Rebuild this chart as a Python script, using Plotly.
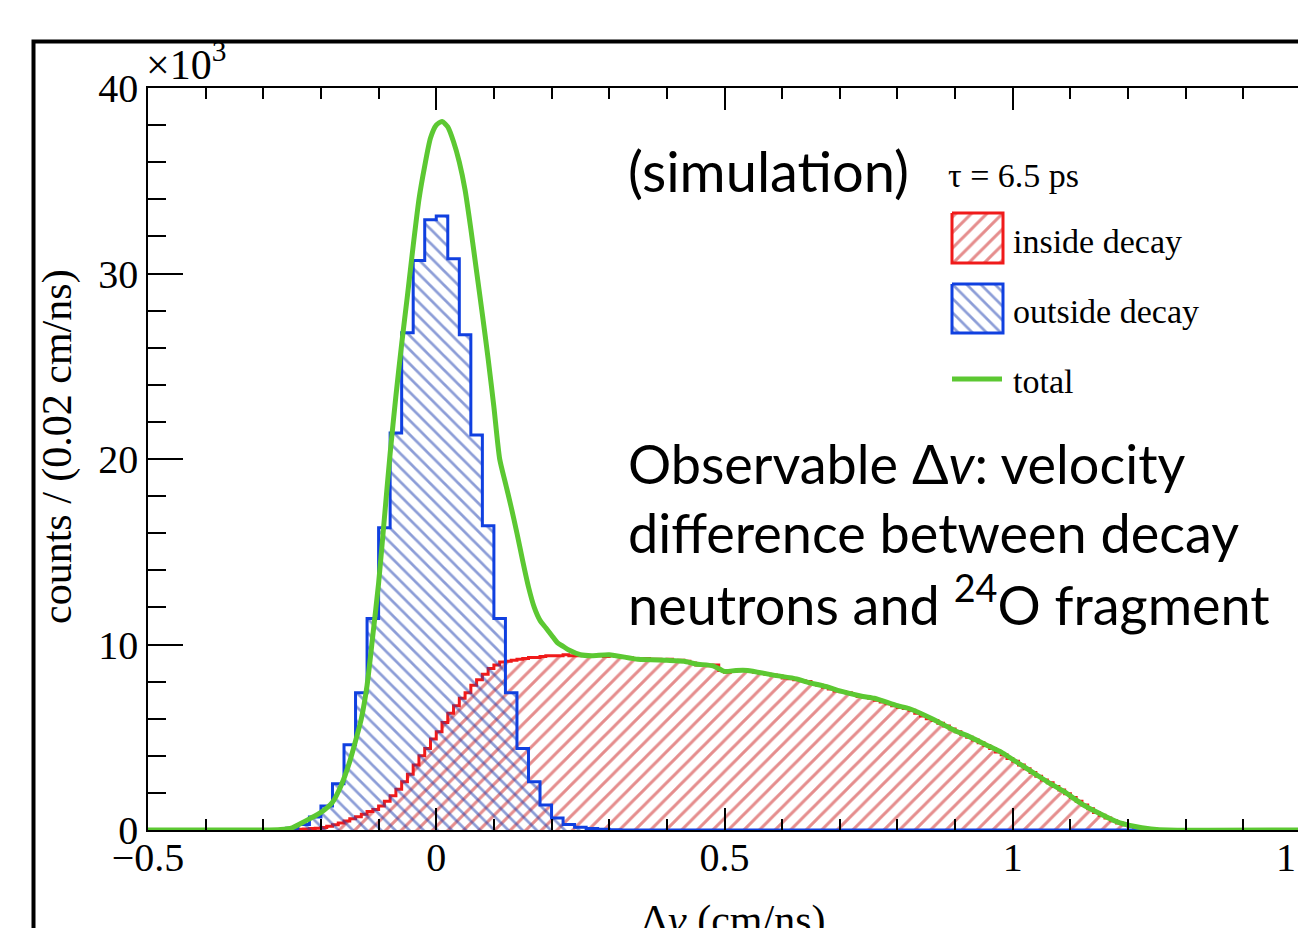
import numpy as np
import plotly.graph_objects as go

# ---------------- figure geometry ----------------
# target positions below are page pixels; the page body adds an 8px offset
W, H = 1306, 928
OFF = 8
PLOT_X0, PLOT_X1 = 148, 1301      # page pixels of the plot area
PLOT_Y0, PLOT_Y1 = 88, 830
L = PLOT_X0 - OFF
T = PLOT_Y0 - OFF
R = W - (PLOT_X1 - OFF)
B = H - (PLOT_Y1 - OFF)

# ---------------- data ----------------
x_range = [-0.5, 1.5]
y_range = [0, 40]            # in units of 10^3 counts

# outside decay (blue), 0.02-wide bins starting at -0.30
blue_start = -0.30
blue_width = 0.02
blue_vals = [0.0, 0.02, 0.1, 0.3, 0.7, 1.3, 2.5, 4.6, 7.4, 11.4, 16.3, 21.4,
             26.8, 30.7, 32.9, 33.1, 30.8, 26.7, 21.3, 16.4, 11.4, 7.4, 4.4,
             2.6, 1.35, 0.65, 0.3, 0.15, 0.08, 0.04, 0.02, 0.0]

# inside decay (red), 0.01-wide bins starting at -0.26
red_start = -0.26
red_width = 0.01
red_vals = [0.01, 0.02, 0.04, 0.06, 0.08, 0.1, 0.14, 0.2, 0.28, 0.38, 0.48,
            0.6, 0.72, 0.85, 1.0, 1.1, 1.3, 1.55, 1.85, 2.2, 2.6, 3.0, 3.5,
            4.0, 4.4, 4.9, 5.3, 5.8, 6.3, 6.7, 7.1, 7.4, 7.8, 8.1, 8.4, 8.7,
            8.9, 9.05, 9.1, 9.15, 9.2, 9.25, 9.3, 9.3, 9.35, 9.4, 9.4, 9.4,
            9.45, 9.4, 9.4, 9.45, 9.4, 9.4, 9.4, 9.35, 9.4, 9.35, 9.3, 9.3,
            9.25, 9.2, 9.25, 9.2, 9.2, 9.15, 9.2, 9.1, 9.15, 9.1, 9.0, 8.9,
            8.9, 8.85, 8.9, 8.6, 8.5, 8.55, 8.6, 8.6, 8.55, 8.5, 8.45, 8.4,
            8.35, 8.3, 8.2, 8.15, 8.1, 8.05, 8.0, 7.9, 7.8, 7.7, 7.6, 7.5,
            7.45, 7.4, 7.3, 7.2, 7.15, 7.1, 7.0, 6.9, 6.8, 6.7, 6.6, 6.55,
            6.45, 6.3, 6.15, 6.0, 5.9, 5.75, 5.6, 5.45, 5.3, 5.15, 5.0, 4.85,
            4.7, 4.55, 4.4, 4.2, 4.05, 3.85, 3.7, 3.5, 3.3, 3.1, 2.9, 2.7,
            2.55, 2.35, 2.15, 1.95, 1.75, 1.55, 1.35, 1.15, 0.95, 0.8, 0.65,
            0.5, 0.38, 0.28, 0.2, 0.14, 0.09, 0.06, 0.04, 0.02, 0.01, 0.0,
            0.0, 0.0]

# total (green curve)
total_x = [-0.5, -0.3, -0.27, -0.25, -0.235, -0.22, -0.2, -0.18, -0.165,
           -0.15, -0.14, -0.13, -0.12, -0.11, -0.1, -0.09, -0.08, -0.07,
           -0.06, -0.05, -0.04, -0.03, -0.02, -0.01, 0.0, 0.01, 0.02, 0.03,
           0.04, 0.05, 0.06, 0.07, 0.08, 0.09, 0.1, 0.11, 0.12, 0.13, 0.14,
           0.15, 0.16, 0.17, 0.18, 0.19, 0.2, 0.21, 0.22, 0.23, 0.25, 0.27,
           0.3, 0.35, 0.4, 0.43, 0.45, 0.48, 0.5, 0.52, 0.54, 0.585, 0.625,
           0.64, 0.68, 0.7, 0.74, 0.76, 0.8, 0.82, 0.86, 0.9, 0.92, 0.96,
           0.98, 1.0, 1.04, 1.06, 1.09, 1.12, 1.15, 1.18, 1.21, 1.24, 1.27,
           1.5]
total_y = [0.0, 0.0, 0.03, 0.12, 0.35, 0.6, 0.95, 1.5, 2.4, 3.7, 4.8, 6.0,
           7.8, 10.5, 13.3, 16.8, 20.3, 23.4, 26.2, 28.8, 31.5, 34.0, 35.8,
           37.3, 38.0, 38.2, 37.9, 37.1, 36.0, 34.5, 32.4, 30.1, 27.8, 25.4,
           22.8, 20.0, 18.7, 17.4, 16.0, 14.5, 13.1, 12.0, 11.3, 10.9, 10.5,
           10.1, 9.9, 9.7, 9.45, 9.4, 9.45, 9.2, 9.15, 9.1, 8.95, 8.85, 8.55,
           8.6, 8.6, 8.35, 8.15, 8.0, 7.7, 7.5, 7.2, 7.1, 6.7, 6.55, 6.0,
           5.35, 5.1, 4.5, 4.2, 3.8, 3.0, 2.6, 2.05, 1.4, 0.9, 0.45, 0.2,
           0.06, 0.0, 0.0]

x_tickvals = [-0.5, 0, 0.5, 1, 1.5]
x_ticktext = ["\u22120.5", "0", "0.5", "1", "1.5"]
y_tickvals = [0, 10, 20, 30, 40]
y_ticktext = ["0", "10", "20", "30", "40"]

legend_labels = ["inside decay", "outside decay", "total"]

# ---------------- styles ----------------
RED = "#f01a1a"
RED_HATCH = "#cc1c1c"
BLUE = "#1040e0"
BLUE_HATCH = "#1a3cb0"
GREEN = "#5cc832"
SERIF = "Liberation Serif, Times New Roman, serif"
SANS = "Lato, Open Sans, sans-serif"


def step_xy(start, width, vals):
    edges = start + width * np.arange(len(vals) + 1)
    xs = [x_range[0]] + list(edges[:-1]) + [edges[-1], x_range[1]]
    ys = [0.0] + list(vals) + [0.0, 0.0]
    return xs, ys


def px_x(px):
    return (px - PLOT_X0) / (PLOT_X1 - PLOT_X0)


def px_y(py):
    return (PLOT_Y1 - py) / (PLOT_Y1 - PLOT_Y0)


HATCH_RED = dict(shape="/", fgcolor=RED_HATCH, bgcolor="rgba(0,0,0,0)",
                 size=11, solidity=0.27)
HATCH_BLUE = dict(shape="\\", fgcolor=BLUE_HATCH, bgcolor="rgba(0,0,0,0)",
                  size=10, solidity=0.27)

fig = go.Figure()

rx, ry = step_xy(red_start, red_width, red_vals)
fig.add_trace(go.Scatter(
    x=rx, y=ry, mode="lines", line=dict(color=RED, width=3, shape="hv"),
    fill="tozeroy", fillcolor="rgba(0,0,0,0)", fillpattern=HATCH_RED,
    name=legend_labels[0], showlegend=False, hoverinfo="skip"))

bx, by = step_xy(blue_start, blue_width, blue_vals)
fig.add_trace(go.Scatter(
    x=bx, y=by, mode="lines", line=dict(color=BLUE, width=3, shape="hv"),
    fill="tozeroy", fillcolor="rgba(0,0,0,0)", fillpattern=HATCH_BLUE,
    name=legend_labels[1], showlegend=False, hoverinfo="skip"))

fig.add_trace(go.Scatter(
    x=total_x, y=total_y, mode="lines",
    line=dict(color=GREEN, width=5, shape="spline", smoothing=0.6),
    name=legend_labels[2], showlegend=False, hoverinfo="skip"))

# ---------------- legend (drawn on a page-pixel overlay axis) ----------------
def box(x0, y0, x1, y1):
    return [x0, x1, x1, x0, x0], [y0, y0, y1, y1, y0]

kx, ky = box(952, 213, 1003, 263)
fig.add_trace(go.Scatter(
    x=kx, y=ky, xaxis="x2", yaxis="y2", mode="lines", fill="toself",
    line=dict(color=RED, width=3), fillcolor="rgba(0,0,0,0)",
    fillpattern=HATCH_RED, showlegend=False, hoverinfo="skip"))
kx, ky = box(952, 284, 1003, 333)
fig.add_trace(go.Scatter(
    x=kx, y=ky, xaxis="x2", yaxis="y2", mode="lines", fill="toself",
    line=dict(color=BLUE, width=3), fillcolor="rgba(0,0,0,0)",
    fillpattern=HATCH_BLUE, showlegend=False, hoverinfo="skip"))
fig.add_trace(go.Scatter(
    x=[952, 1002], y=[379, 379], xaxis="x2", yaxis="y2", mode="lines",
    line=dict(color=GREEN, width=5), showlegend=False, hoverinfo="skip"))

annotations = []


def add_text(text, px, py, size, font=SERIF, xanchor="left", angle=0):
    annotations.append(dict(
        text=text, x=px_x(px), y=px_y(py), xref="paper", yref="paper",
        xanchor=xanchor, yanchor="middle", showarrow=False, textangle=angle,
        font=dict(family=font, size=size, color="black")))


add_text("\u03c4 = 6.5 ps", 946, 175, 34)
add_text(legend_labels[0], 1011, 241, 34)
add_text(legend_labels[1], 1011, 311, 34)
add_text(legend_labels[2], 1011, 381, 34)

add_text("(simulation)", 626, 170, 56, SANS)
add_text("Observable \u0394<i>v</i>: velocity", 626, 463, 54, SANS)
add_text("difference between decay", 626, 532, 54, SANS)
add_text("neutrons and <sup>24</sup>O fragment", 626, 601, 54, SANS)

add_text("\u00d710<sup>3</sup>", 144, 62, 42)
add_text("counts / (0.02 cm/ns)", 57, 447, 42, xanchor="center", angle=-90)
add_text("\u0394<i>v</i> (cm/ns)", 733, 920, 42, xanchor="center")

fig.update_layout(
    width=W, height=H,
    margin=dict(l=L, r=R, t=T, b=B, pad=0, autoexpand=False),
    paper_bgcolor="white", plot_bgcolor="white",
    showlegend=False,
    annotations=annotations,
    shapes=[dict(type="rect", xref="paper", yref="paper",
                 x0=px_x(33.5), x1=px_x(1500), y0=px_y(1100), y1=px_y(41.5),
                 line=dict(color="black", width=4), layer="above")],
    xaxis=dict(range=x_range, showgrid=False, zeroline=False, automargin=False,
               showline=True, linecolor="black", linewidth=1.5,
               mirror="allticks", ticks="inside", ticklen=22, tickwidth=1.5,
               tickcolor="black", tickvals=x_tickvals, ticktext=x_ticktext,
               tickfont=dict(family=SERIF, size=40, color="black"),
               ticklabeloverflow="allow", ticklabelstandoff=-9,
               minor=dict(dtick=0.1, tick0=0, ticks="inside", ticklen=11,
                          tickwidth=1.5, tickcolor="black")),
    yaxis=dict(range=y_range, showgrid=False, zeroline=False, automargin=False,
               showline=True, linecolor="black", linewidth=1.5,
               mirror=True, ticks="inside", ticklen=35, tickwidth=1.5,
               tickcolor="black", tickvals=y_tickvals, ticktext=y_ticktext,
               tickfont=dict(family=SERIF, size=40, color="black"),
               ticklabeloverflow="allow",
               minor=dict(dtick=2, tick0=0, ticks="inside", ticklen=18,
                          tickwidth=1.5, tickcolor="black")),
    xaxis2=dict(overlaying="x", range=[PLOT_X0, PLOT_X1], visible=False,
                anchor="y2", automargin=False),
    yaxis2=dict(overlaying="y", range=[PLOT_Y1, PLOT_Y0], visible=False,
                anchor="x2", automargin=False),
)

fig.write_html("out.html")
